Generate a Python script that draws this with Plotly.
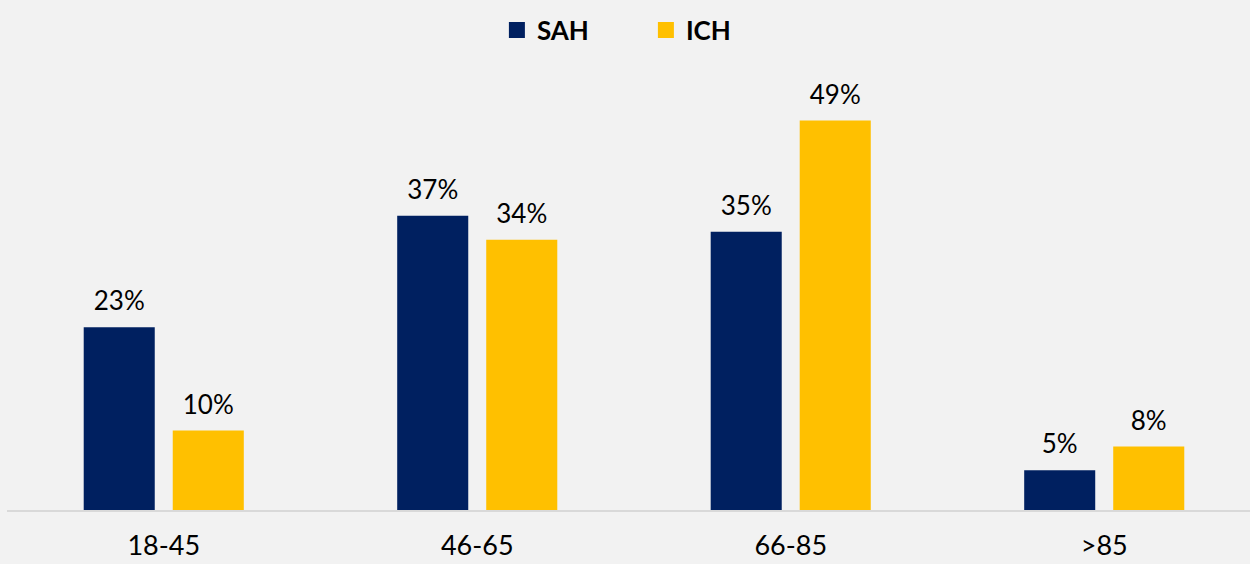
import plotly.graph_objects as go

categories = ["18-45", "46-65", "66-85", ">85"]
sah_values = [23, 37, 35, 5]
ich_values = [10, 34, 49, 8]
series_names = ["SAH", "ICH"]
series_colors = ["#002060", "#FFC000"]

FONT = "Lato"

fig = go.Figure()
for name, vals, col in zip(series_names, [sah_values, ich_values], series_colors):
    fig.add_trace(go.Bar(
        x=categories, y=vals, name=name,
        marker=dict(color=col, line=dict(width=0)),
        offsetgroup=name,
        showlegend=False, hoverinfo="skip",
    ))
    # value labels, aligned with the bars via the same offset groups
    fig.add_trace(go.Scatter(
        x=categories, y=vals, name=name, mode="markers+text",
        text=[f"{v}%" for v in vals], textposition="top center",
        textfont=dict(family=FONT, size=26, color="#000000"),
        marker=dict(size=15, opacity=0),
        offsetgroup=name, cliponaxis=False,
        showlegend=False, hoverinfo="skip",
    ))
    # legend entry (square swatch)
    fig.add_trace(go.Scatter(
        x=[None], y=[None], mode="markers", name=name,
        marker=dict(symbol="square", size=16, color=col),
        showlegend=True,
    ))

fig.update_layout(
    width=1250, height=564,
    margin=dict(l=7, r=0, t=100, b=54),
    paper_bgcolor="#f2f2f2", plot_bgcolor="#f2f2f2",
    barmode="group", bargap=0.432, bargroupgap=0.202,
    scattermode="group", scattergap=0.432,
    font=dict(family=FONT, size=26, color="#000000"),
    legend=dict(
        orientation="h", x=0.514, xanchor="center",
        yref="container", y=1 - 30 / 564, yanchor="middle",
        font=dict(family=FONT, size=26, color="#000000", weight="bold"),
        bgcolor="rgba(0,0,0,0)", itemwidth=30,
        entrywidth=104, entrywidthmode="pixels",
    ),
    xaxis=dict(
        range=[-0.5, 3.465], showline=True, linecolor="#d9d9d9", linewidth=2,
        ticks="", showgrid=False, zeroline=False, ticklabelstandoff=11,
        tickfont=dict(family=FONT, size=27, color="#000000"),
    ),
    yaxis=dict(range=[0, 51.57], visible=False, showgrid=False, zeroline=False),
)

fig.write_html(
    "out.html",
    config={"displayModeBar": False},
    post_script="document.body.style.margin='0';document.body.style.background='#f2f2f2';",
)
